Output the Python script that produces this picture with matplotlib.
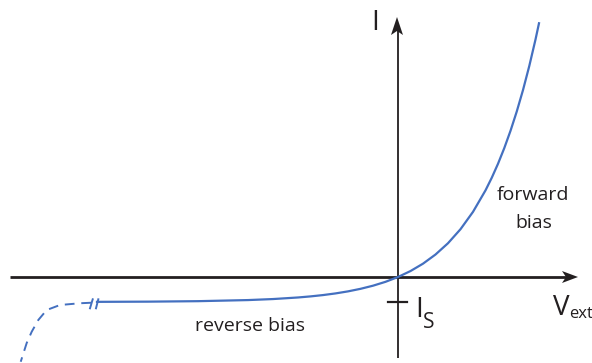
import matplotlib
matplotlib.use("Agg")
import matplotlib.pyplot as plt
from matplotlib.patches import Polygon

plt.rcParams['font.family'] = ['Open Sans', 'DejaVu Sans']

# Diode I-V characteristic (arbitrary units, saturation current I_S = 1)
v_fwd = [-6.02, -5.0, -4.0, -3.0, -2.5, -2.0, -1.75, -1.5, -1.25, -1.0, -0.75,
         -0.5, -0.25, 0.0, 0.25, 0.5, 0.75, 1.0, 1.25, 1.5, 1.75, 1.875, 2.0,
         2.125, 2.25, 2.375, 2.5, 2.625, 2.75, 2.82]
i_fwd = [-0.994, -0.986, -0.967, -0.923, -0.882, -0.819, -0.776, -0.723,
         -0.657, -0.575, -0.473, -0.348, -0.193, 0.0, 0.238, 0.533, 0.899,
         1.351, 1.912, 2.606, 3.465, 3.969, 4.529, 5.153, 5.847, 6.619,
         7.478, 8.435, 9.50, 10.15]

# Breakdown region (sketched, dashed)
v_brk = [-6.14, -6.36, -6.76, -7.026, -7.194, -7.326, -7.426, -7.546]
i_brk = [-1.03, -1.05, -1.12, -1.32, -1.72, -2.19, -2.64, -3.39]

i_sat = 1.0

blue = '#4470c0'
dark = '#231f20'

fig = plt.figure(figsize=(5.92, 3.63), dpi=100)
ax = fig.add_axes([0, 0, 1, 1])
ax.set_xlim(-398 / 50, 194 / 50)
ax.set_ylim(-86 / 25, 277 / 25)
ax.axis('off')

# axes with stealth arrowheads
ax.plot([-7.76, 3.40], [0, 0], color=dark, lw=2.0, solid_capstyle='butt', zorder=2)
ax.plot([0, 0], [-3.24, 10.0], color=dark, lw=1.3, solid_capstyle='butt', zorder=2)
ax.add_patch(Polygon([(3.60, 0), (3.28, 0.24), (3.36, 0), (3.28, -0.24)],
                     closed=True, color=dark, lw=0, zorder=3))
ax.add_patch(Polygon([(-0.02, 10.40), (-0.14, 9.68), (-0.02, 9.84), (0.10, 9.68)],
                     closed=True, color=dark, lw=0, zorder=3))

# I_S tick
ax.plot([-0.2, 0.18], [-i_sat, -i_sat], color=dark, lw=1.6, zorder=2)

# characteristic curve
ax.plot(v_fwd, i_fwd, color=blue, lw=1.6, zorder=4, solid_joinstyle='round')
ax.plot(v_brk, i_brk, color=blue, lw=1.4, ls=(0, (5, 3.5)), zorder=4)

# axis break marks
ax.plot([-6.106, -6.16], [-0.892, -1.252], color=blue, lw=1.4, zorder=4)
ax.plot([-5.994, -6.04], [-0.892, -1.252], color=blue, lw=1.4, zorder=4)

# labels
ax.text(-0.46, 9.88, 'I', fontsize=20, color=dark, ha='center', va='baseline')
ax.text(0.42, -1.6, 'I', fontsize=20, color=dark, ha='center', va='baseline')
ax.text(0.61, -2.04, 'S', fontsize=15, color=dark, ha='center', va='baseline')
ax.text(3.27, -1.52, 'V', fontsize=20, color=dark, ha='center', va='baseline')
ax.text(3.43, -1.64, 'ext', fontsize=12, color=dark, ha='left', va='baseline')
ax.text(-2.96, -2.16, 'reverse bias', fontsize=14, color=dark, ha='center', va='baseline')
ax.text(2.70, 3.08, 'forward', fontsize=14, color=dark, ha='center', va='baseline')
ax.text(2.72, 1.96, 'bias', fontsize=14, color=dark, ha='center', va='baseline')

fig.savefig('out.png', dpi=100)
